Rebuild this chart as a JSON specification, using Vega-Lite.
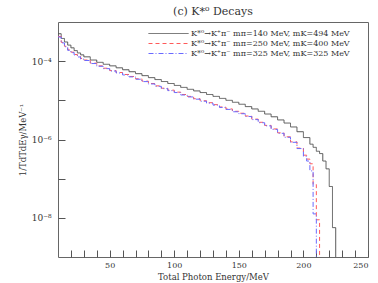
{
  "$schema": "https://vega.github.io/schema/vega-lite/v6.json",
  "width": 310,
  "height": 235,
  "autosize": "none",
  "padding": {"left": 58, "top": 22, "right": 10, "bottom": 26},
  "config": {
    "font": "DejaVu Serif",
    "view": {"stroke": "#666"}
  },
  "title": {"text": "(c) K*⁰ Decays", "font": "DejaVu Serif", "fontSize": 11, "fontWeight": "normal", "color": "#333", "offset": 5},
  "datasets": {
    "d": [
      {"s":"a","E":10,"v":5.01e-4},{"s":"a","E":12.5,"v":3.80e-4},{"s":"a","E":15,"v":3.09e-4},{"s":"a","E":17.5,"v":2.57e-4},{"s":"a","E":20,"v":2.19e-4},{"s":"a","E":22.5,"v":1.86e-4},{"s":"a","E":25,"v":1.62e-4},{"s":"a","E":27.5,"v":1.45e-4},{"s":"a","E":30,"v":1.29e-4},{"s":"a","E":35,"v":1.07e-4},{"s":"a","E":40,"v":9.33e-5},{"s":"a","E":45,"v":8.32e-5},{"s":"a","E":50,"v":7.59e-5},{"s":"a","E":55,"v":6.76e-5},{"s":"a","E":60,"v":6.03e-5},{"s":"a","E":65,"v":5.37e-5},{"s":"a","E":70,"v":4.79e-5},{"s":"a","E":75,"v":4.27e-5},{"s":"a","E":80,"v":3.80e-5},{"s":"a","E":85,"v":3.39e-5},{"s":"a","E":90,"v":3.02e-5},{"s":"a","E":95,"v":2.69e-5},{"s":"a","E":100,"v":2.40e-5},{"s":"a","E":105,"v":2.14e-5},{"s":"a","E":110,"v":1.91e-5},{"s":"a","E":115,"v":1.74e-5},{"s":"a","E":120,"v":1.58e-5},{"s":"a","E":125,"v":1.41e-5},{"s":"a","E":130,"v":1.26e-5},{"s":"a","E":135,"v":1.12e-5},{"s":"a","E":140,"v":1.00e-5},{"s":"a","E":145,"v":8.91e-6},{"s":"a","E":150,"v":7.94e-6},{"s":"a","E":155,"v":6.92e-6},{"s":"a","E":160,"v":6.03e-6},{"s":"a","E":165,"v":5.25e-6},{"s":"a","E":170,"v":4.47e-6},{"s":"a","E":175,"v":3.80e-6},{"s":"a","E":180,"v":3.16e-6},{"s":"a","E":185,"v":2.63e-6},{"s":"a","E":190,"v":2.09e-6},{"s":"a","E":195,"v":1.58e-6},{"s":"a","E":200,"v":1.12e-6},{"s":"a","E":205,"v":7.59e-7},{"s":"a","E":207.5,"v":6.31e-7},{"s":"a","E":210,"v":5.01e-7},{"s":"a","E":212.5,"v":4.37e-7},{"s":"a","E":215,"v":2.82e-7},{"s":"a","E":217.5,"v":1.78e-7},{"s":"a","E":220,"v":6.31e-8},{"s":"a","E":222.5,"v":5.62e-9},{"s":"a","E":225,"v":1e-9},
      {"s":"b","E":10,"v":4.27e-4},{"s":"b","E":12.5,"v":3.02e-4},{"s":"b","E":15,"v":2.40e-4},{"s":"b","E":17.5,"v":1.95e-4},{"s":"b","E":20,"v":1.70e-4},{"s":"b","E":22.5,"v":1.48e-4},{"s":"b","E":25,"v":1.32e-4},{"s":"b","E":27.5,"v":1.17e-4},{"s":"b","E":30,"v":1.07e-4},{"s":"b","E":35,"v":8.91e-5},{"s":"b","E":40,"v":7.59e-5},{"s":"b","E":45,"v":6.61e-5},{"s":"b","E":50,"v":5.75e-5},{"s":"b","E":55,"v":5.13e-5},{"s":"b","E":60,"v":4.57e-5},{"s":"b","E":65,"v":4.07e-5},{"s":"b","E":70,"v":3.55e-5},{"s":"b","E":75,"v":3.09e-5},{"s":"b","E":80,"v":2.69e-5},{"s":"b","E":85,"v":2.34e-5},{"s":"b","E":90,"v":2.04e-5},{"s":"b","E":95,"v":1.82e-5},{"s":"b","E":100,"v":1.62e-5},{"s":"b","E":105,"v":1.41e-5},{"s":"b","E":110,"v":1.26e-5},{"s":"b","E":115,"v":1.10e-5},{"s":"b","E":120,"v":9.77e-6},{"s":"b","E":125,"v":8.71e-6},{"s":"b","E":130,"v":7.76e-6},{"s":"b","E":135,"v":6.76e-6},{"s":"b","E":140,"v":6.03e-6},{"s":"b","E":145,"v":5.25e-6},{"s":"b","E":150,"v":4.68e-6},{"s":"b","E":155,"v":3.98e-6},{"s":"b","E":160,"v":3.31e-6},{"s":"b","E":165,"v":2.75e-6},{"s":"b","E":170,"v":2.29e-6},{"s":"b","E":175,"v":1.86e-6},{"s":"b","E":180,"v":1.48e-6},{"s":"b","E":185,"v":1.17e-6},{"s":"b","E":190,"v":8.71e-7},{"s":"b","E":195,"v":6.03e-7},{"s":"b","E":200,"v":3.98e-7},{"s":"b","E":202.5,"v":3.16e-7},{"s":"b","E":205,"v":2.40e-7},{"s":"b","E":207.5,"v":7.08e-8},{"s":"b","E":210,"v":8.91e-9},{"s":"b","E":212.5,"v":1e-9},
      {"s":"c","E":10,"v":4.14e-4},{"s":"c","E":12.5,"v":2.93e-4},{"s":"c","E":15,"v":2.33e-4},{"s":"c","E":17.5,"v":1.89e-4},{"s":"c","E":20,"v":1.65e-4},{"s":"c","E":22.5,"v":1.44e-4},{"s":"c","E":25,"v":1.28e-4},{"s":"c","E":27.5,"v":1.13e-4},{"s":"c","E":30,"v":1.04e-4},{"s":"c","E":35,"v":8.70e-5},{"s":"c","E":40,"v":7.40e-5},{"s":"c","E":45,"v":6.45e-5},{"s":"c","E":50,"v":5.60e-5},{"s":"c","E":55,"v":5.00e-5},{"s":"c","E":60,"v":4.45e-5},{"s":"c","E":65,"v":3.97e-5},{"s":"c","E":70,"v":3.46e-5},{"s":"c","E":75,"v":3.01e-5},{"s":"c","E":80,"v":2.62e-5},{"s":"c","E":85,"v":2.28e-5},{"s":"c","E":90,"v":1.99e-5},{"s":"c","E":95,"v":1.77e-5},{"s":"c","E":100,"v":1.58e-5},{"s":"c","E":105,"v":1.37e-5},{"s":"c","E":110,"v":1.22e-5},{"s":"c","E":115,"v":1.07e-5},{"s":"c","E":120,"v":9.50e-6},{"s":"c","E":125,"v":8.47e-6},{"s":"c","E":130,"v":7.55e-6},{"s":"c","E":135,"v":6.58e-6},{"s":"c","E":140,"v":5.87e-6},{"s":"c","E":145,"v":5.11e-6},{"s":"c","E":150,"v":4.55e-6},{"s":"c","E":155,"v":3.87e-6},{"s":"c","E":160,"v":3.22e-6},{"s":"c","E":165,"v":2.68e-6},{"s":"c","E":170,"v":2.23e-6},{"s":"c","E":175,"v":1.81e-6},{"s":"c","E":180,"v":1.44e-6},{"s":"c","E":185,"v":1.14e-6},{"s":"c","E":190,"v":8.47e-7},{"s":"c","E":195,"v":5.87e-7},{"s":"c","E":200,"v":3.72e-7},{"s":"c","E":202.5,"v":2.82e-7},{"s":"c","E":205,"v":1.58e-7},{"s":"c","E":207.5,"v":1.26e-8},{"s":"c","E":210,"v":1e-9}
    ]
  },
  "data": {"name": "d"},
  "mark": {"type": "line", "interpolate": "step-after", "strokeWidth": 1},
  "encoding": {
    "x": {"field": "E", "type": "quantitative", "scale": {"domain": [10, 250], "nice": false, "zero": false},
      "axis": {"title": "Total Photon Energy/MeV", "titleFont": "DejaVu Serif", "titleFontWeight": "normal", "titleColor": "#333", "titleFontSize": 8.5, "titlePadding": 3,
        "values": [20,30,40,50,60,70,80,90,100,110,120,130,140,150,160,170,180,190,200,210,220,230,240,250],
        "labelExpr": "datum.value % 50 === 0 ? datum.label : ''",
        "labelFont": "DejaVu Serif", "labelColor": "#333", "labelFontSize": 8, "labelPadding": 11, "tickSize": -7, "tickColor": "#555", "domain": false, "grid": false,
        "encode": {"ticks": {"update": {"y2": {"signal": "datum.value % 50 === 0 ? -7 : -4"}}}}}},
    "y": {"field": "v", "type": "quantitative", "scale": {"type": "log", "domain": [1e-9, 1e-3], "nice": false},
      "axis": {"title": "1/TdTdEγ/MeV⁻¹", "titleFont": "DejaVu Serif", "titleFontWeight": "normal", "titleColor": "#333", "titleFontSize": 8.5,
        "values": [1e-8, 1e-7, 1e-6, 1e-5, 1e-4],
        "labelExpr": "round(log(datum.value)/LN10) == -4 ? '10⁻⁴' : round(log(datum.value)/LN10) == -6 ? '10⁻⁶' : round(log(datum.value)/LN10) == -8 ? '10⁻⁸' : ''",
        "labelFont": "DejaVu Serif", "labelColor": "#333", "labelFontSize": 9, "labelPadding": 14, "tickSize": -7, "tickColor": "#555", "domain": false, "grid": false,
        "encode": {"ticks": {"update": {"x2": {"signal": "abs(round(log(datum.value)/LN10)) % 2 == 0 ? 7 : 4"}}}}}},
    "color": {"field": "s", "type": "nominal", "scale": {"domain": ["a","b","c"], "range": ["#555555", "#ff5a5a", "#6a6aff"]},
      "legend": {"orient": "none", "legendX": 85, "legendY": 6, "title": null, "symbolType": "M0,0H8", "symbolSize": 100, "symbolStrokeWidth": 1,
        "labelFont": "DejaVu Serif", "labelFontSize": 8, "labelColor": "#333", "labelOffset": 37, "labelLimit": 400, "rowPadding": 0, "padding": 0,
        "labelExpr": "datum.label == 'a' ? 'K*⁰→K⁺π⁻  mπ=140 MeV, mK=494 MeV' : datum.label == 'b' ? 'K*⁰→K⁺π⁻  mπ=250 MeV, mK=400 MeV' : 'K*⁰→K⁺π⁻  mπ=325 MeV, mK=325 MeV'"}},
    "strokeDash": {"field": "s", "type": "nominal", "scale": {"domain": ["a","b","c"], "range": [[1,0],[4,3],[5,2,1,2]]}, "legend": null}
  }
}
